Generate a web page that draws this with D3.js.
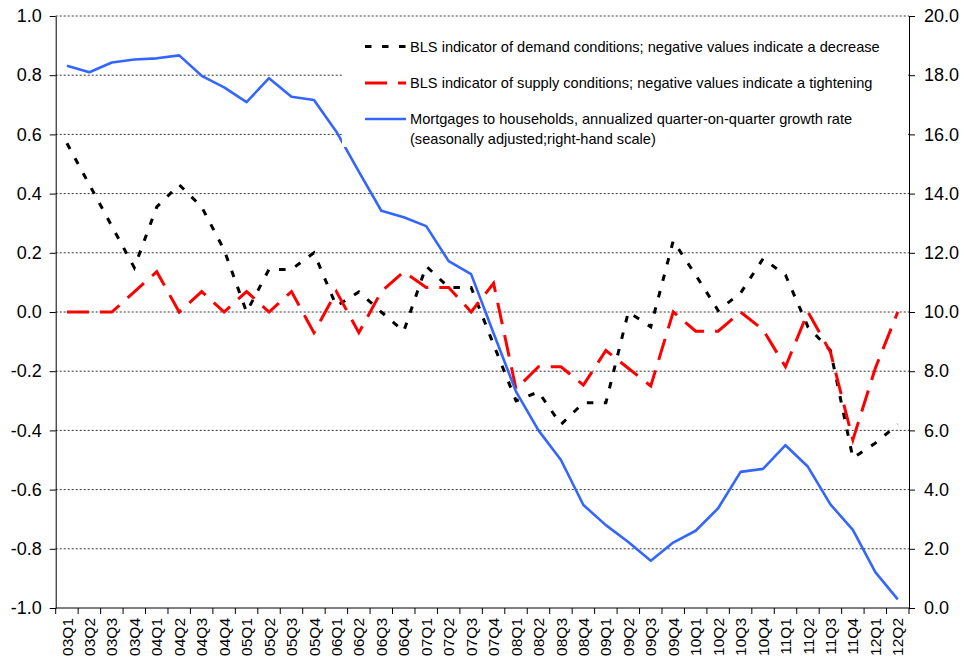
<!DOCTYPE html>
<html>
<head>
<meta charset="utf-8">
<script src="https://cdn.jsdelivr.net/npm/d3@7"></script>
<style>
  html, body { margin: 0; padding: 0; background: #fff; }
  svg { display: block; font-family: "Liberation Sans", Arial, sans-serif; }
</style>
</head>
<body>
<svg id="chart" width="964" height="657"></svg>
<script>
// Quarters on the horizontal axis
const categories = [
  "03Q1","03Q2","03Q3","03Q4","04Q1","04Q2","04Q3","04Q4",
  "05Q1","05Q2","05Q3","05Q4","06Q1","06Q2","06Q3","06Q4",
  "07Q1","07Q2","07Q3","07Q4","08Q1","08Q2","08Q3","08Q4",
  "09Q1","09Q2","09Q3","09Q4","10Q1","10Q2","10Q3","10Q4",
  "11Q1","11Q2","11Q3","11Q4","12Q1","12Q2"
];

// BLS indicator of demand conditions (left scale)
const demand = [
  0.57, 0.43, 0.29, 0.15, 0.355, 0.43, 0.355, 0.21,
  0.00, 0.144, 0.144, 0.20, 0.02, 0.068, 0.00, -0.065,
  0.155, 0.083, 0.083, -0.11, -0.30, -0.27, -0.38, -0.307,
  -0.307, 0.00, -0.05, 0.24, 0.125, 0.005, 0.064, 0.18,
  0.125, -0.05, -0.13, -0.493, -0.443, -0.38
];

// BLS indicator of supply conditions (left scale)
const supply = [
  0.00, 0.00, 0.00, 0.068, 0.136, 0.00, 0.069, 0.00,
  0.069, 0.00, 0.069, -0.07, 0.069, -0.07, 0.069, 0.136,
  0.083, 0.083, 0.00, 0.097, -0.26, -0.185, -0.185, -0.247,
  -0.13, -0.19, -0.25, 0.00, -0.065, -0.065, 0.00, -0.06,
  -0.185, 0.00, -0.135, -0.432, -0.19, 0.00
];

// Mortgages to households, annualized q-o-q growth rate (right scale, %)
const mortgages = [
  18.32, 18.10, 18.43, 18.53, 18.57, 18.67, 17.98, 17.59,
  17.09, 17.90, 17.27, 17.16, 16.09, 14.74, 13.42, 13.20,
  12.90, 11.72, 11.28, 9.28, 7.31, 6.00, 5.00, 3.48,
  2.80, 2.23, 1.60, 2.21, 2.61, 3.37, 4.60, 4.70,
  5.50, 4.77, 3.50, 2.64, 1.21, 0.29
];

const leftTicks = [-1.0, -0.8, -0.6, -0.4, -0.2, 0.0, 0.2, 0.4, 0.6, 0.8, 1.0];
const rightTicks = [0, 2, 4, 6, 8, 10, 12, 14, 16, 18, 20];

const legendItems = [
  { lines: ["BLS indicator of demand conditions; negative values indicate a decrease"], color: "#000", width: 3, dash: "6.5,10.5" },
  { lines: ["BLS indicator of supply conditions; negative values indicate a tightening"], color: "#ff0000", width: 3, dash: "22,11" },
  { lines: ["Mortgages to households, annualized quarter-on-quarter growth rate", "(seasonally adjusted;right-hand scale)"], color: "#3366ff", width: 2.6, dash: null }
];

const plot = { left: 55.7, right: 909, top: 16, bottom: 608 };

const svg = d3.select("#chart");

const x = d3.scaleBand().domain(categories).range([plot.left, plot.right]).padding(0);
const cx = d => x(d) + x.bandwidth() / 2;
const yL = d3.scaleLinear().domain([-1, 1]).range([plot.bottom, plot.top]);
const yR = d3.scaleLinear().domain([0, 20]).range([plot.bottom, plot.top]);

// Dotted horizontal gridlines
svg.append("g")
  .selectAll("line")
  .data(leftTicks.filter(v => v > -1))
  .join("line")
  .attr("x1", plot.left).attr("x2", plot.right)
  .attr("y1", d => yL(d)).attr("y2", d => yL(d))
  .attr("stroke", "#333").attr("stroke-width", 1)
  .attr("stroke-dasharray", "2,2");

// Left axis
const axL = svg.append("g")
  .attr("transform", `translate(${plot.left},0)`)
  .call(d3.axisLeft(yL).tickValues(leftTicks).tickFormat(d => d.toFixed(1))
    .tickSize(6).tickSizeOuter(0).tickPadding(8));
axL.selectAll("text").attr("font-size", 18).attr("fill", "#000")
  .attr("font-family", "Liberation Sans, Arial, sans-serif");
axL.selectAll("line, path").attr("stroke", "#000");

// Right axis
const axR = svg.append("g")
  .attr("transform", `translate(${plot.right},0)`)
  .call(d3.axisRight(yR).tickValues(rightTicks).tickFormat(d => d.toFixed(1))
    .tickSize(6).tickSizeOuter(0).tickPadding(9));
axR.selectAll("text").attr("font-size", 18).attr("fill", "#000")
  .attr("font-family", "Liberation Sans, Arial, sans-serif");
axR.selectAll("line, path").attr("stroke", "#000");

// Bottom axis line, boundary ticks and rotated quarter labels
const bottom = svg.append("g");
bottom.append("line")
  .attr("x1", plot.left).attr("x2", plot.right)
  .attr("y1", plot.bottom).attr("y2", plot.bottom)
  .attr("stroke", "#000");
const boundaries = categories.map(c => x(c)).concat([plot.right]);
bottom.selectAll("line.tick")
  .data(boundaries)
  .join("line")
  .attr("class", "tick")
  .attr("x1", d => d).attr("x2", d => d)
  .attr("y1", plot.bottom).attr("y2", plot.bottom + 6)
  .attr("stroke", "#000");
bottom.selectAll("text")
  .data(categories)
  .join("text")
  .attr("transform", d => `translate(${cx(d)},${plot.bottom + 10}) rotate(-90)`)
  .attr("text-anchor", "end")
  .attr("dy", "0.36em")
  .attr("font-size", 15.5)
  .attr("fill", "#000")
  .text(d => d);

// Series
const lineL = d3.line().x((d, i) => cx(categories[i])).y(d => yL(d));
const lineR = d3.line().x((d, i) => cx(categories[i])).y(d => yR(d));

svg.append("path").datum(demand)
  .attr("d", lineL).attr("fill", "none")
  .attr("stroke", "#000").attr("stroke-width", 3)
  .attr("stroke-dasharray", "6.5,10.5");

svg.append("path").datum(supply)
  .attr("d", lineL).attr("fill", "none")
  .attr("stroke", "#ff0000").attr("stroke-width", 3)
  .attr("stroke-dasharray", "22,11");

svg.append("path").datum(mortgages)
  .attr("d", lineR).attr("fill", "none")
  .attr("stroke", "#3366ff").attr("stroke-width", 2.6)
  .attr("stroke-linejoin", "round");

// Legend with white background
const legend = svg.append("g");
legend.append("rect")
  .attr("x", 342).attr("y", 22)
  .attr("width", plot.right - 343).attr("height", 125)
  .attr("fill", "#fff");
const rowY = [46.5, 83, 119];
legendItems.forEach((item, i) => {
  const g = legend.append("g").attr("transform", `translate(0,${rowY[i]})`);
  const ln = g.append("line")
    .attr("x1", 365).attr("x2", 406).attr("y1", 0).attr("y2", 0)
    .attr("stroke", item.color).attr("stroke-width", item.width);
  if (item.dash) ln.attr("stroke-dasharray", item.dash);
  item.lines.forEach((t, j) => {
    g.append("text")
      .attr("x", 410).attr("y", j * 19.5)
      .attr("dy", "0.35em")
      .attr("font-size", 14.6)
      .attr("fill", "#000")
      .text(t);
  });
});
</script>
</body>
</html>
